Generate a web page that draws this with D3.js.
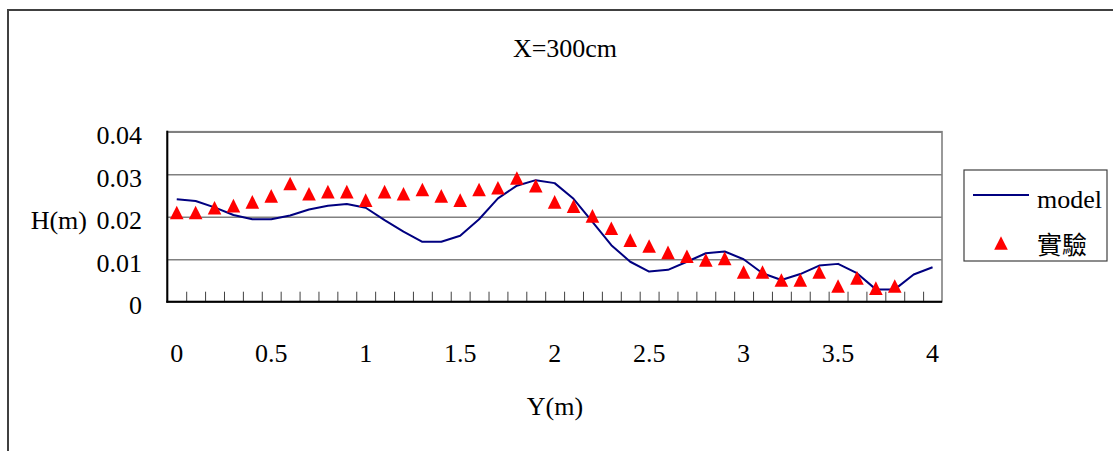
<!DOCTYPE html>
<html>
<head>
<meta charset="utf-8">
<script src="https://cdn.jsdelivr.net/npm/d3@7"></script>
<style>
  html, body { margin: 0; padding: 0; background: #fff; }
  svg { display: block; }
  text { font-family: "Liberation Serif", "Times New Roman", serif; fill: #000; }
</style>
</head>
<body>
<svg id="chart" width="1113" height="451"></svg>
<script>
// ---- data ----
const title = "X=300cm";
const xTitle = "Y(m)";
const yTitle = "H(m)";
const categories = [0, 0.1, 0.2, 0.3, 0.4, 0.5, 0.6, 0.7, 0.8, 0.9,
                    1, 1.1, 1.2, 1.3, 1.4, 1.5, 1.6, 1.7, 1.8, 1.9,
                    2, 2.1, 2.2, 2.3, 2.4, 2.5, 2.6, 2.7, 2.8, 2.9,
                    3, 3.1, 3.2, 3.3, 3.4, 3.5, 3.6, 3.7, 3.8, 3.9, 4];
const xTickLabels = [0, 0.5, 1, 1.5, 2, 2.5, 3, 3.5, 4];
const yTicks = [0, 0.01, 0.02, 0.03, 0.04];
const modelName = "model";
const modelValues = [0.0241, 0.0237, 0.0222, 0.0204, 0.0194, 0.0194, 0.0203, 0.0217, 0.0226, 0.0230,
                     0.0221, 0.0192, 0.0165, 0.0141, 0.0141, 0.0155, 0.0194, 0.0243, 0.0273, 0.0286,
                     0.0279, 0.0242, 0.0188, 0.0133, 0.0094, 0.0071, 0.0075, 0.0094, 0.0114, 0.0118,
                     0.0100, 0.0067, 0.0051, 0.0065, 0.0085, 0.0089, 0.0067, 0.0029, 0.0029, 0.0064,
                     0.0081];
const expName = "實驗";
const expValues = [0.0210, 0.0210, 0.0221, 0.0226, 0.0235, 0.0249, 0.0278, 0.0254, 0.0259, 0.0259,
                   0.0239, 0.0259, 0.0254, 0.0264, 0.0249, 0.0239, 0.0264, 0.0268, 0.0291, 0.0273,
                   0.0235, 0.0225, 0.0202, 0.0173, 0.0145, 0.0131, 0.0116, 0.0107, 0.0098, 0.0102,
                   0.0070, 0.0070, 0.0051, 0.0051, 0.0070, 0.0037, 0.0056, 0.0032, 0.0037];

// ---- layout ----
const svg = d3.select("#chart");
const plot = { left: 167.3, right: 942, top: 131.7, bottom: 301.7 };

svg.append("rect").attr("width", 1113).attr("height", 451).attr("fill", "#fff");
// outer chart border
svg.append("rect")
  .attr("x", 8).attr("y", 10).attr("width", 1130).attr("height", 470)
  .attr("fill", "none").attr("stroke", "#404040").attr("stroke-width", 2);

const x = d3.scaleBand().domain(categories).range([plot.left, plot.right]).padding(0);
const xEdge = d3.scaleLinear().domain([0, categories.length]).range([plot.left, plot.right]);
const y = d3.scaleLinear().domain([0, 0.04]).range([plot.bottom, plot.top]);

// plot area border (grey)
svg.append("rect")
  .attr("x", plot.left).attr("y", plot.top)
  .attr("width", plot.right - plot.left).attr("height", plot.bottom - plot.top)
  .attr("fill", "none").attr("stroke", "#808080").attr("stroke-width", 1.6);

// gridlines
const grid = svg.append("g").attr("transform", `translate(${plot.left},0)`)
  .call(d3.axisLeft(y).tickValues(yTicks).tickSize(-(plot.right - plot.left)).tickFormat(""));
grid.select(".domain").remove();
grid.selectAll("line").attr("stroke", "#808080").attr("stroke-width", 1.6);

// x tick marks (between categories, pointing inward)
const xt = svg.append("g").attr("transform", `translate(0,${plot.bottom})`)
  .call(d3.axisBottom(xEdge).tickValues(d3.range(1, categories.length)).tickSize(-10).tickFormat(""));
xt.select(".domain").remove();
xt.selectAll("line").attr("stroke", "#404040").attr("stroke-width", 1);

// axes lines
svg.append("line").attr("x1", plot.left).attr("x2", plot.left)
  .attr("y1", plot.top - 1).attr("y2", plot.bottom + 1)
  .attr("stroke", "#000").attr("stroke-width", 2);
svg.append("line").attr("x1", plot.left - 1).attr("x2", plot.right)
  .attr("y1", plot.bottom).attr("y2", plot.bottom)
  .attr("stroke", "#000").attr("stroke-width", 2);

// y labels
svg.append("g").selectAll("text").data(yTicks).join("text")
  .attr("x", 142).attr("y", d => y(d) + 12.5)
  .attr("text-anchor", "end").attr("font-size", 26)
  .text(d => String(d));

// x labels
svg.append("g").selectAll("text").data(xTickLabels).join("text")
  .attr("x", d => x(d) + x.bandwidth() / 2).attr("y", 362)
  .attr("text-anchor", "middle").attr("font-size", 26)
  .text(d => String(d));

// titles
svg.append("text").attr("x", 565).attr("y", 57).attr("text-anchor", "middle")
  .attr("font-size", 26).text(title);
svg.append("text").attr("x", 555).attr("y", 415).attr("text-anchor", "middle")
  .attr("font-size", 26).text(xTitle);
svg.append("text").attr("x", 87).attr("y", y(0.02) + 12.5).attr("text-anchor", "end")
  .attr("font-size", 26).text(yTitle);

// model line
const cx = d => x(d) + x.bandwidth() / 2;
const line = d3.line().x((d, i) => cx(categories[i])).y(d => y(d));
svg.append("path").datum(modelValues)
  .attr("d", line).attr("fill", "none")
  .attr("stroke", "#000080").attr("stroke-width", 2).attr("stroke-linejoin", "round");

// triangles
const tri = "M0,-6.8L6.8,6.8L-6.8,6.8Z";
svg.append("g").selectAll("path").data(expValues).join("path")
  .attr("d", tri)
  .attr("transform", (d, i) => `translate(${cx(categories[i])},${y(d)})`)
  .attr("fill", "#ff0000");

// legend
const lg = svg.append("g");
lg.append("rect").attr("x", 964).attr("y", 170).attr("width", 143).attr("height", 91)
  .attr("fill", "#fff").attr("stroke", "#404040").attr("stroke-width", 1.2);
lg.append("line").attr("x1", 973).attr("x2", 1029).attr("y1", 195).attr("y2", 195)
  .attr("stroke", "#000080").attr("stroke-width", 2);
lg.append("text").attr("x", 1037).attr("y", 208).attr("font-size", 26).text(modelName);
lg.append("path").attr("d", tri).attr("transform", "translate(1001,243)").attr("fill", "#ff0000");
lg.append("text").attr("x", 1037).attr("y", 254).attr("font-size", 25)
  .style("font-family", "'Noto Sans CJK TC', 'Noto Sans CJK SC', sans-serif").text(expName);
</script>
</body>
</html>
